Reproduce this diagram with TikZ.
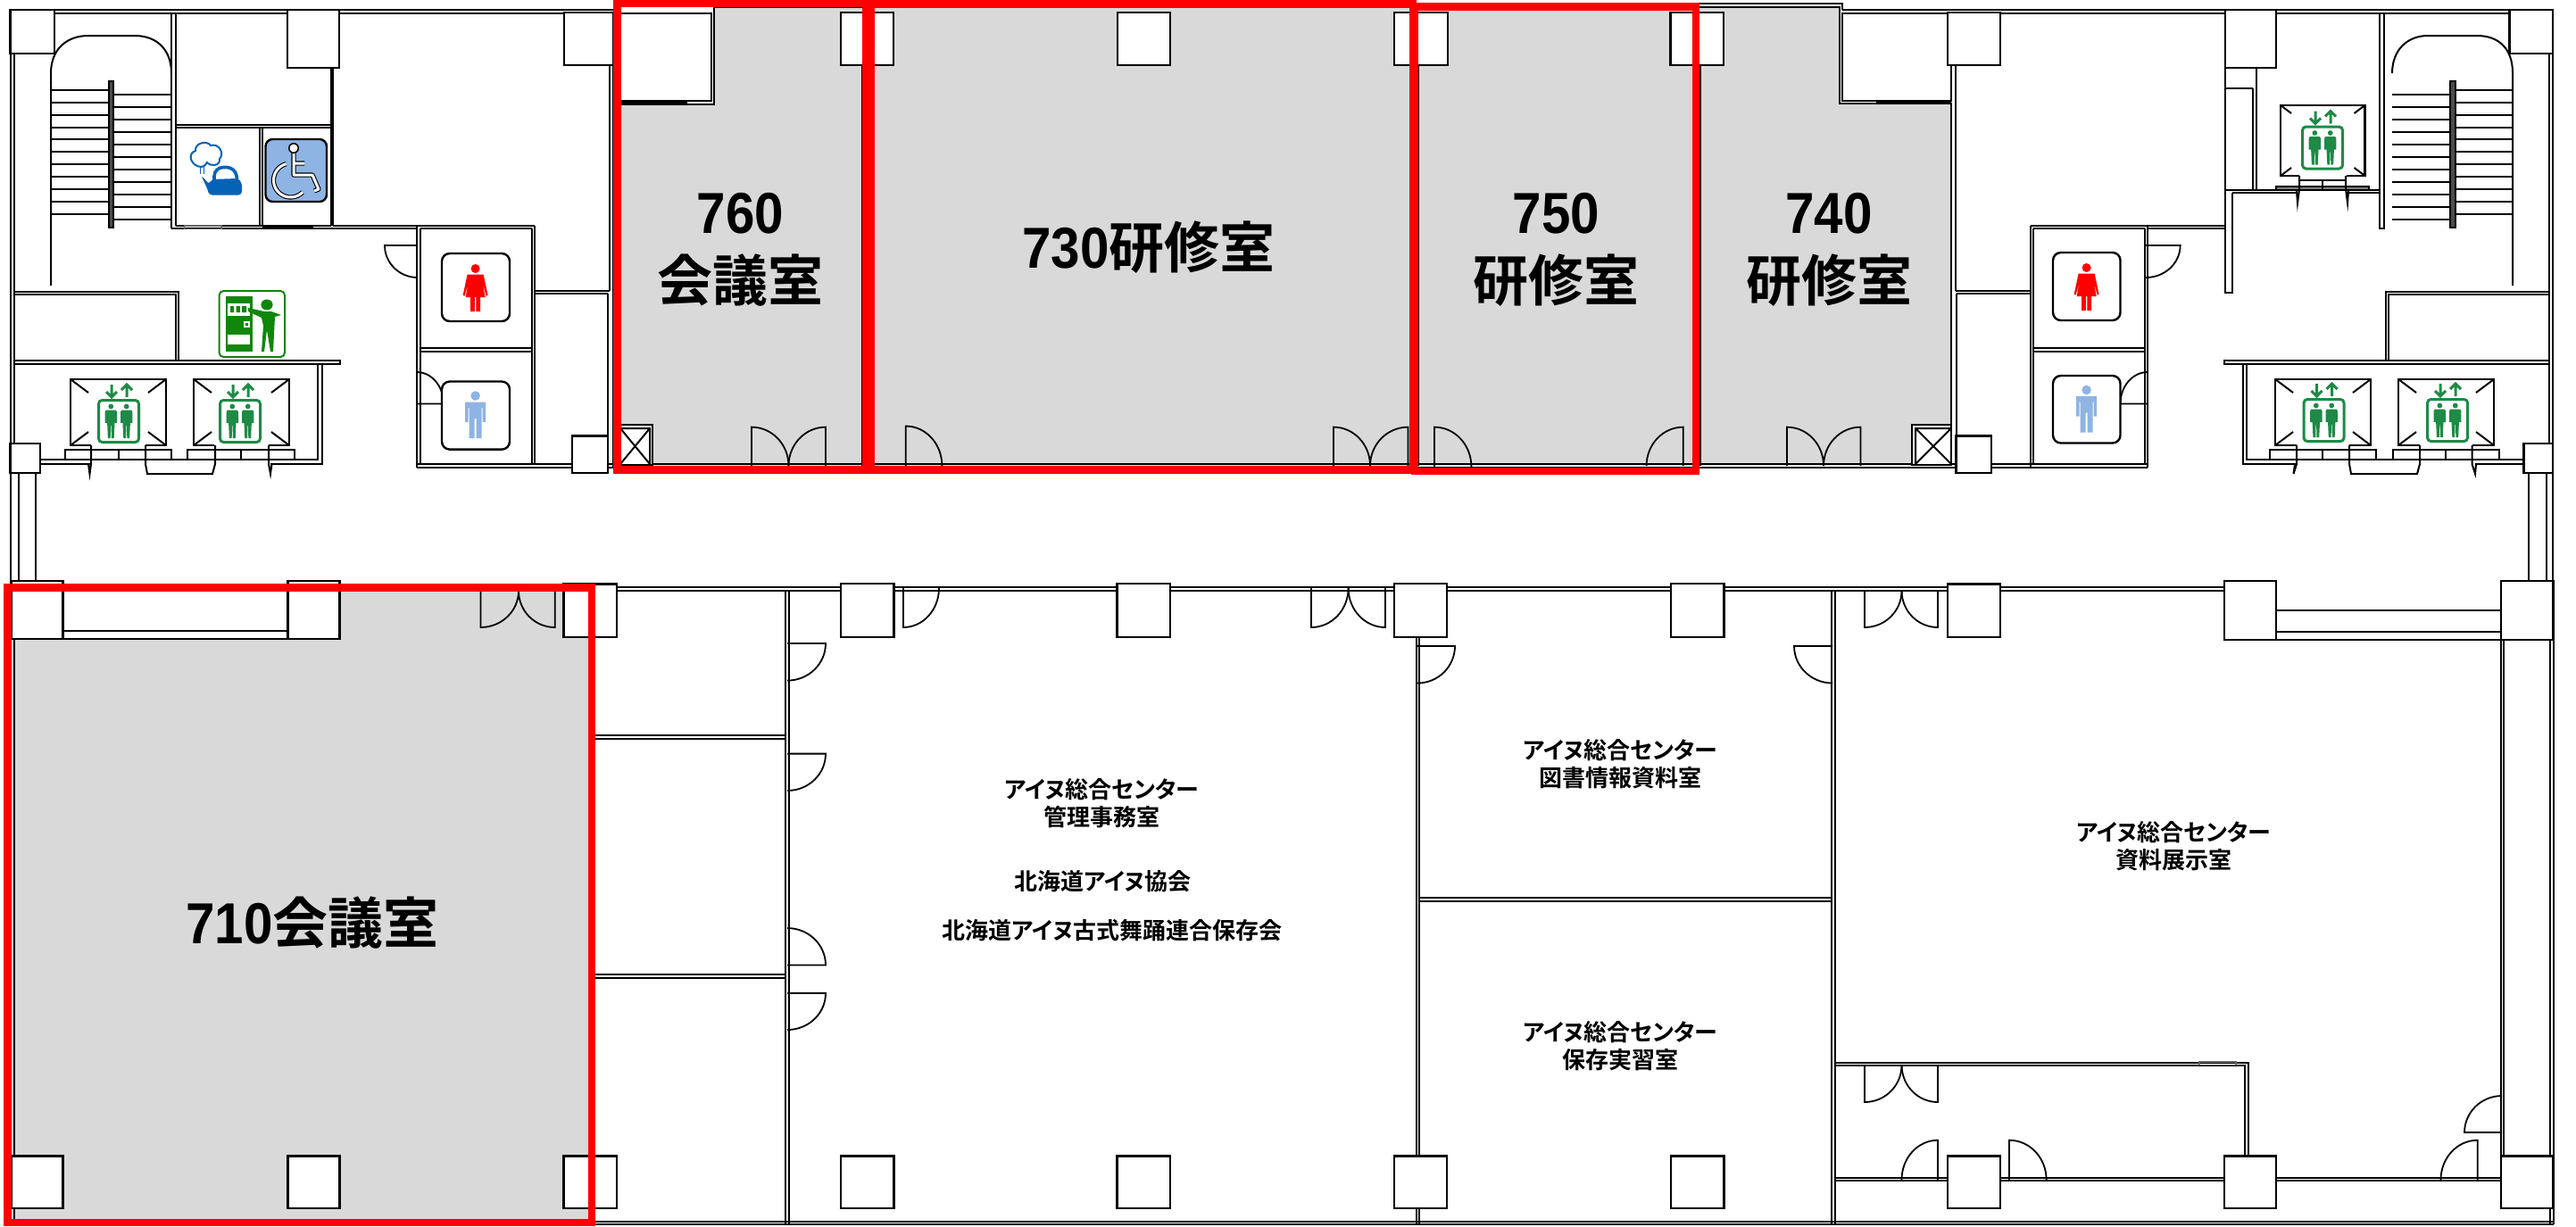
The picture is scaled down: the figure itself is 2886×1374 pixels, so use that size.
\documentclass[tikz,border=0pt]{standalone}
\usepackage{fontspec}
\setmainfont{Liberation Sans}
\newfontfamily\jp{Noto Sans CJK JP Bold}[RawFeature=+palt]
\newfontfamily\jq{Noto Sans CJK JP Bold}
\newfontfamily\dg{Liberation Sans}[FakeStretch=.9]
\definecolor{icongreen}{HTML}{1E8A46}
\definecolor{vendgreen}{HTML}{10860C}
\definecolor{wcblue}{HTML}{8EB4E3}
\definecolor{roomgray}{HTML}{D9D9D9}
\definecolor{kettleblue}{HTML}{0563B7}
\tikzset{
 wl/.style={draw=black,line width=.5pt},
 colm/.style={draw=black,fill=white,line width=.6pt},
 dr/.style={draw=black,line width=.45pt},
 redbox/.style={draw=red,line width=2.1pt},
 bigl/.style={font=\jq\fontsize{15.5}{19}\selectfont,align=center,inner sep=0pt,text=black},
 smalll/.style={font=\jp\fontsize{6.5}{7.9}\selectfont,align=center,inner sep=0pt,text=black},
}
\newcommand{\dgt}[1]{{\dg\bfseries\fontsize{16.2}{19}\selectfont #1}}
\newcommand{\col}[4]{\draw[colm] (#1,#2) rectangle (#3,#4);}
\newcommand{\door}[6]{\draw[dr] (#1,#2)--(#3,#4) .. controls ({#3+.5523*(#5-#1)},{#4+.5523*(#6-#2)}) and ({#5+.5523*(#3-#1)},{#6+.5523*(#4-#2)}) .. (#5,#6);}
\newcommand{\elevbox}[6]{% x1 y1 x2 y2 pocket diag
 \draw[draw=black,line width=.65pt,fill=white] (#1+#5,#4)--(#1,#4)--(#1,#2)--(#3,#2)--(#3,#4)--(#3-#5,#4);
 \draw[wl] (#1,#2)--(#1+#6,#2+#6*.75) (#3,#2)--(#3-#6,#2+#6*.75) (#1,#4)--(#1+#6,#4-#6*.75) (#3,#4)--(#3-#6,#4-#6*.75);}
\newcommand{\epers}[1]{\begin{scope}[shift={(#1,0)}]
 \fill[icongreen] (0,-16.5) circle (2.9);
 \fill[icongreen] (-5.5,-12.5)--(5.5,-12.5)--(6.7,-10.5)--(6.7,2)--(4.2,2)--(3.4,19)--(.6,19)--(.3,5)--(-.3,5)--(-.6,19)--(-3.4,19)--(-4.2,2)--(-6.7,2)--(-6.7,-10.5)--cycle;
 \end{scope}}
\newcommand{\elevicon}[2]{\begin{scope}[shift={(#1,#2)}]
 \draw[icongreen,line width=.75pt,rounded corners=1pt,fill=white] (-22.5,-23.5) rectangle (22.5,23.5);
 \epers{-8.7}\epers{8.7}
 \draw[icongreen,line width=.75pt] (-8,-41)--(-8,-27) (-14,-33)--(-8,-27)--(-2,-33) (9,-27)--(9,-41) (3,-35)--(9,-41)--(15,-35);
 \end{scope}}
\newcommand{\wcbox}[4]{\draw[draw=black,line width=.6pt,fill=white,rounded corners=2.2pt] (#1,#2) rectangle (#3,#4);}
\newcommand{\female}[2]{\begin{scope}[shift={(#1,#2)}]
 \fill[red] (0,-21) circle (5);
 \fill[red] (-9,-14.5)--(9,-14.5)--(14,9)--(12,9.5)--(8,-5)--(11,11)--(5.5,11)--(5.5,27)--(.8,27)--(.8,11)--(-.8,11)--(-.8,27)--(-5.5,27)--(-5.5,11)--(-11,11)--(-8,-5)--(-12,9.5)--(-14,9)--cycle;
 \end{scope}}
\newcommand{\male}[2]{\begin{scope}[shift={(#1,#2)}]
 \fill[wcblue] (0,-21.5) circle (5.3);
 \fill[wcblue] (-11.5,-14.5)--(11.5,-14.5)--(11.5,8)--(8,8)--(8,-8)--(7,-8)--(7,26)--(1,26)--(1,4)--(-1,4)--(-1,26)--(-7,26)--(-7,-8)--(-8,-8)--(-8,8)--(-11.5,8)--cycle;
 \end{scope}}
\begin{document}
\begin{tikzpicture}[x=0.25pt,y=-0.25pt,line join=miter]
\useasboundingbox (0,0) rectangle (2886,1374);
\fill[white] (0,0) rectangle (2886,1374);
% gray rooms
\fill[roomgray] (800,8)--(2061,8)--(2061,116)--(2186,116)--(2186,522)--(687,522)--(687,117)--(800,117)--cycle;
\fill[roomgray] (12,662) rectangle (660,1369);
\fill[white] (70.6,662) rectangle (322.6,716);
% outer walls, upper block
\draw[wl] (61,11)--(687,11) (61,15)--(687,15) (2064,11)--(2812,11) (2064,15)--(2812,15);
\draw[wl] (11.5,60)--(11.5,497) (16,60)--(16,497) (2856,60)--(2856,497) (2860,60)--(2860,497);
\draw[wl] (12,530)--(12,651) (20.6,530)--(20.6,651) (40,530)--(40,651);
\draw[wl] (2833,530)--(2833,651) (2853,530)--(2853,651) (2860,530)--(2860,651);
% lower block
\draw[wl] (691,658)--(2492,658) (691,662)--(2492,662);
\draw[wl] (12,716)--(12,1372) (15.5,716)--(15.5,1372) (2857,717)--(2857,1372) (2861,717)--(2861,1372);
\draw[wl] (12,1369)--(2861,1369) (12,1372)--(2861,1372);
\draw[wl] (880,662)--(880,1372) (884,662)--(884,1372) (1587,714)--(1587,1372) (1590,714)--(1590,1372) (2052,662)--(2052,1372) (2056,662)--(2056,1372);
\draw[wl] (667,824)--(880,824) (667,828)--(880,828) (667,1092)--(880,1092) (667,1096)--(880,1096);
\draw[wl] (1590,1006)--(2052,1006) (1590,1009.5)--(2052,1009.5);
\draw[wl] (2056,1191)--(2519,1191)--(2519,1295.5) (2056,1193.5)--(2515,1193.5)--(2515,1295.5);
\draw[draw=black!60,line width=.4pt] (2464,1190) rectangle (2505,1193.5);
\draw[wl] (2056,1320)--(2802,1320) (2056,1323)--(2802,1323);
\draw[wl] (2802,717)--(2802,1295.5) (2805,717)--(2805,1295.5);
\draw[wl] (2550,684)--(2802,684) (2550,707.5)--(2802,707.5) (2550,717)--(2802,717);
\draw[wl] (70.6,662)--(322.6,662) (70.6,706.5)--(322.6,706.5) (70.6,716)--(322.6,716);
% upper rooms
\draw[wl] (800.7,4)--(2064,4)--(2064,11) (800.7,8)--(2061,8)--(2061,116)--(2186,116)--(2186,522);
\draw[wl,fill=white] (800,8)--(800,117)--(687,117);
\fill[white] (695,15) rectangle (797,113);
\draw[wl] (695,15)--(797,15)--(797,113)--(695,113);
\draw[wl,fill=white] (2064,15) rectangle (2186,113);
\draw[line width=1pt] (695,115)--(770,115) (2102,115)--(2186,115);
\draw[wl] (966,73)--(966,522) (1589,73)--(1589,522) (1905,73)--(1905,522);
\draw[wl] (467,520)--(2406,520) (467,524)--(2406,524);
% left upper block
\draw[wl] (192,15)--(192,256) (196.5,15)--(196.5,253);
\draw[wl] (196.5,140)--(370.5,140) (196.5,143)--(370.5,143);
\draw[wl] (370.5,76)--(370.5,253) (373,76)--(373,253);
\draw[wl] (291,143)--(291,253) (294,143)--(294,253);
\draw[wl] (196.5,253)--(370.5,253) (192,256)--(467,256) (373,253)--(599,253);
\draw[line width=1pt] (294,254.5)--(351,254.5);
\draw[draw=black!60,line width=.4pt] (206.6,253) rectangle (248,256.5);
\draw[wl] (683,73)--(683,326) (687,73)--(687,524);
\draw[wl] (599,326)--(683,326) (599,328.6)--(681,328.6) (681,328.6)--(681,520);
% left toilets
\draw[wl] (467,253)--(467,524) (470.6,256)--(470.6,520) (599,253)--(599,520) (595.5,256)--(595.5,520);
\draw[wl] (470.6,256)--(595.5,256);
\draw[wl] (470.6,390)--(595.5,390) (470.6,393.6)--(595.5,393.6);
% left stairs
\draw[wl] (57,320)--(57,82) .. controls (57,55) and (75,40) .. (99,40)--(151,40) .. controls (175,40) and (192,55) .. (192,82);
\foreach \y in {100.7,114.6,128.6,142.5,156.4,170.4,184.3,198.2,212,226,240} \draw[wl] (57,\y)--(122,\y);
\foreach \y in {106,120,134,148,162,176,190,204,218,232,246} \draw[wl] (127,\y)--(192,\y);
\draw[wl,fill=black!70] (122,91) rectangle (127,255);
% lower-left of upper block
\draw[wl] (16,327)--(200,327)--(200,403.5) (16,330)--(196.5,330)--(196.5,403.5);
\draw[wl] (16,403.5)--(381,403.5)--(381,408)--(16,408);
\draw[wl] (356,408)--(356,515)--(46,515) (360.5,408)--(360.5,520)--(303,520) (45,520)--(101,520);
% right upper block
\draw[wl] (2666,15)--(2666,256)--(2670.5,256)--(2670.5,15);
\draw[wl] (2527.5,76)--(2527.5,212.5) (2524,99)--(2524,212.5) (2493,99)--(2524,99) (2493,76)--(2493,327.5)--(2501,327.5)--(2501,216);
\draw[wl] (2493,212.5)--(2666,212.5) (2501,216)--(2574,216) (2631,216)--(2666,216);
\draw[wl] (2275,253)--(2493,253) (2406,256)--(2493,256);
\draw[wl] (2190.5,73)--(2190.5,326) (2190.5,326)--(2275,326) (2191.5,329)--(2275,329) (2191.5,329)--(2191.5,520);
\draw[wl] (2275,253)--(2275,524) (2278,256)--(2278,520) (2403,256)--(2403,520) (2406,253)--(2406,524) (2278,256)--(2403,256);
\draw[wl] (2278,390)--(2403,390) (2278,393.6)--(2403,393.6);
% right stairs
\draw[wl] (2680,82) .. controls (2680,55) and (2698,40) .. (2720,40)--(2775,40) .. controls (2800,40) and (2815,55) .. (2815,82)--(2815,320);
\foreach \y in {106,120,134,148,162,176,190,204,218,232,246} \draw[wl] (2680,\y)--(2745,\y);
\foreach \y in {100.7,114.6,128.6,142.5,156.4,170.4,184.3,198.2,212,226,240} \draw[wl] (2751,\y)--(2815,\y);
\draw[wl,fill=black!70] (2745,91) rectangle (2751,255);
\draw[wl] (2673,403.5)--(2673,327)--(2856,327) (2676,403.5)--(2676,330)--(2856,330);
\draw[wl] (2856,403.5)--(2492,403.5)--(2492,408)--(2856,408);
\draw[wl] (2512.5,408)--(2512.5,520)--(2572,520) (2517,408)--(2517,515)--(2827.5,515) (2773,520)--(2827.5,520);
% vent boxes
\draw[wl,fill=white] (695,476) rectangle (730.5,521);
\draw[wl] (695,480)--(728,480)--(728,520) (695,480)--(728,520) (728,480)--(695,520);
\draw[wl,fill=white] (2142.4,476) rectangle (2185.7,521);
\draw[wl] (2146,520)--(2146,480)--(2186,480) (2146,480)--(2186,520) (2186,480)--(2146,520);
% doors
\door{842}{522}{842}{478.6}{883.5}{522}\door{925}{522}{925}{478.6}{883.5}{522}
\door{1014.7}{522}{1014.7}{477.5}{1055.4}{522}
\door{1494}{522}{1494}{478.6}{1535}{522}\door{1577.5}{522}{1577.5}{478.6}{1535}{522}
\door{1607}{523}{1607}{478.6}{1648.4}{523}
\door{1885.7}{522}{1885.7}{478.6}{1844.6}{522}
\door{2002}{522}{2002}{478.6}{2043}{522}\door{2084.4}{522}{2084.4}{478.6}{2043}{522}
\door{538.5}{662}{538.5}{703}{581}{662}\door{621.7}{662}{621.7}{703}{581}{662}
\door{882}{721}{925}{721}{882}{762.6}
\door{882}{844.6}{925}{844.6}{882}{886}
\door{882}{1081.5}{925}{1081.5}{882}{1040}
\door{882}{1113}{925}{1113}{882}{1154}
\door{1012}{659}{1012}{703}{1052}{659}
\door{1469}{659}{1469}{703}{1510.6}{659}\door{1552}{659}{1552}{703}{1510.6}{659}
\door{1588}{724}{1630}{724}{1588}{765.5}
\door{2053}{724}{2010}{724}{2053}{765.5}
\door{2089}{662}{2089}{703}{2130.5}{662}\door{2171}{662}{2171}{703}{2130.5}{662}
\door{2089}{1193.5}{2089}{1235}{2130.5}{1193.5}\door{2171}{1193.5}{2171}{1235}{2130.5}{1193.5}
\door{2171}{1322}{2171}{1277.7}{2130.5}{1322}
\door{2251}{1322}{2251}{1277.7}{2292.6}{1322}
\door{2803}{1269}{2761}{1269}{2803}{1228}
\door{2775.7}{1322}{2775.7}{1277.7}{2734.5}{1322}
\door{468}{275}{431}{275}{468}{311}
\door{2404}{275}{2442.6}{275}{2404}{311}
\door{467}{452.5}{497}{452.5}{467}{417}
\door{2406}{452.5}{2375.5}{452.5}{2406}{417}
% columns
\foreach \a/\b/\c/\d in {11.5/11/61/60,322/11/380/76,632/14/687/73,942/14/1001/73,1252/14/1311/73,1562/14/1622/73,1871.4/14/1931/73,2181.7/14/2241/73,2493/11/2550/76,2811.5/11/2860/60,
 11.5/497/45/530,641/488.6/681/530,2191.5/488.6/2231/530,2827.5/497/2860/530,
 12.6/651/70.6/716,322.6/651/380.6/716,631.5/654.6/691/714,942/654/1001.6/714,1251.5/654/1311/714,1562/654/1621/714,1871.7/654/1931.6/714,2182/654.6/2240.7/714,2492/651/2550/717,2802/651/2860.5/717,
 12.6/1295.5/70.6/1354,322.6/1295.5/380.6/1354,631.5/1295.5/691/1354,942/1295.5/1001.6/1354,1251.5/1295.5/1311/1354,1562/1295.5/1621/1354,1871.7/1295.5/1931.6/1354,2182/1295.5/2240.7/1354,2492/1295.5/2550/1354,2802/1295.5/2860.5/1354} {\col{\a}{\b}{\c}{\d}}
% elevators left
\elevbox{79}{425}{186}{499}{23}{20}
\elevbox{217}{425}{324}{499}{23}{20}
\draw[wl] (72.5,504) rectangle (192,515) (132.7,504)--(132.7,515) (210,504) rectangle (330,515) (270,504)--(270,515);
\draw[wl] (102,499)--(102,520)--(100.5,531)--(99,520);
\draw[wl] (163,499)--(163,520)--(165,531)--(238,531)--(241,520)--(241,499);
\draw[wl] (301,499)--(301,520)--(303,531)--(304.5,520);
\elevicon{133}{472}\elevicon{269}{472}
% elevators right
\elevbox{2549}{425}{2656}{499}{24}{20}
\elevbox{2687}{425}{2794}{499}{24}{20}
\draw[wl] (2543,504) rectangle (2662,515) (2602,504)--(2602,515) (2680.5,504) rectangle (2800,515) (2740,504)--(2740,515);
\draw[wl] (2573,499)--(2573,520)--(2569.5,531)--(2571,520);
\draw[wl] (2632,499)--(2632,520)--(2634,531)--(2708,531)--(2711,520)--(2711,499);
\draw[wl] (2769.5,499)--(2769.5,520)--(2773,531)--(2774,520);
\elevicon{2603.5}{471}\elevicon{2742}{471}
% upper right elevator
\elevbox{2555}{118}{2649.5}{197}{21}{12}
\draw[wl,fill=black!50] (2550,209) rectangle (2654,212.5);
\draw[wl] (2576,202)--(2628,202) (2602,202)--(2602,212);
\draw[wl] (2576,197)--(2576,212)--(2574,227.5)--(2573,214) (2628,197)--(2628,212)--(2630,227.5)--(2631,214);
\elevicon{2602}{165.5}
% toilets icons
\wcbox{495}{284}{571}{360}\female{532.6}{322}
\wcbox{495}{427.5}{571}{503.6}\male{532.6}{465}
\wcbox{2300}{283}{2375.5}{359}\female{2337.6}{321}
\wcbox{2300}{421}{2375.5}{496.5}\male{2337.6}{458.5}
% kettle
\begin{scope}
 \draw[kettleblue,line width=.5pt,fill=white] (226,187) .. controls (214,187) and (209,172) .. (219,169) .. controls (218,160) and (232,157) .. (236,163) .. controls (245,160) and (252,172) .. (246,178) .. controls (247,186) and (236,187) .. (232,182) .. controls (230,185) and (228,187) .. (226,187)--cycle;
 \draw[kettleblue,line width=.4pt] (224.5,187)--(224.5,195) (228.5,187)--(228.5,195);
 \draw[kettleblue,line width=.9pt,rounded corners=2.5pt] (240,206)--(240,187.5)--(264,187.5)--(266,206);
 \fill[kettleblue,rounded corners=1pt] (225,196)--(235,207)--(236,201)--(266,200)--(271,204)--(271,218.6)--(234,218.6)--(233,213)--cycle;
\end{scope}
% wheelchair
\draw[draw=black,line width=.6pt,fill=wcblue,rounded corners=2pt] (297.5,156) rectangle (366,226);
\foreach \c/\w in {black/1.3pt,white/.75pt}{
 \draw[\c,line width=\w,line join=round] plot[domain=255:45,samples=30] ({325.5+19*cos(\x)},{202+19*sin(\x)});
 \draw[\c,line width=\w,line join=round] (329,170)--(329,196)--(350,196)--(357,212)--(352,214) (329,183)--(341,183);
}
\fill[black] (329,166) circle (6);
\fill[white] (329,166) circle (4.5);
% vending machine
\draw[vendgreen,line width=.5pt,fill=white,rounded corners=1.2pt] (245.6,326) rectangle (319,400);
\fill[vendgreen] (252.5,332) rectangle (283,394);
\fill[white] (255,340) rectangle (280,353.5);
\fill[white] (255,375) rectangle (280,386);
\fill[vendgreen] (258,343) rectangle (262,350) (264.5,343) rectangle (269,350) (271,343) rectangle (276,350);
\draw[white,line width=.3pt] (274,361) rectangle (279,366);
\fill[vendgreen] (299,341.5) ellipse [x radius=6.6,y radius=6];
\fill[vendgreen] (278,345)--(296,349)--(304,349)--(315,353)--(308,355)--(306,394)--(303,394)--(299,370)--(296,394)--(293,394)--(295,365)--(293,356)--(278,349)--cycle;
% red boxes
\draw[redbox] (691.5,4) rectangle (970,526.5);
\draw[redbox] (976,4.5) rectangle (1583,526.5);
\draw[redbox] (1585,7.5) rectangle (1900,528);
\draw[redbox] (8.6,658.5) rectangle (663,1370);
% labels
\node[bigl] (n760) at (829.5,280) {\dgt{760}\\会議室};
\node[bigl] (n730) at (1287,277) {\dgt{730}研修室};
\node[bigl] (n750) at (1743.5,280) {\dgt{750}\\研修室};
\node[bigl] (n740) at (2049,280) {\dgt{740}\\研修室};
\node[bigl] (n710) at (350,1034) {\dgt{710}会議室};
\node[smalll] (a1) at (1234,900) {アイヌ総合センター\\管理事務室};
\node[smalll] (a2) at (1235.5,987.5) {北海道アイヌ協会};
\node[smalll] (a3) at (1246,1043) {北海道アイヌ古式舞踊連合保存会};
\node[smalll] (a4) at (1815,856) {アイヌ総合センター\\図書情報資料室};
\node[smalll] (a5) at (1815,1172) {アイヌ総合センター\\保存実習室};
\node[smalll] (a6) at (2435,948) {アイヌ総合センター\\資料展示室};
\end{tikzpicture}
\end{document}
